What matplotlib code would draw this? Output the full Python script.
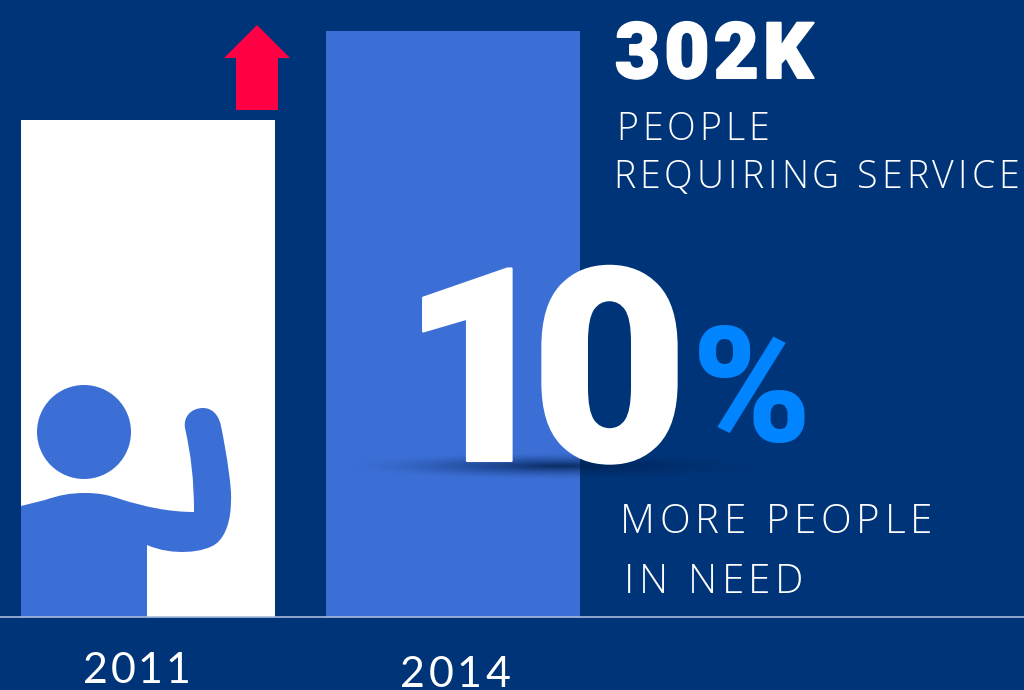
import numpy as np
import matplotlib
matplotlib.use('Agg')
import matplotlib.pyplot as plt
from matplotlib.font_manager import findfont, get_font
from matplotlib.patches import Circle, PathPatch, Polygon
from matplotlib.path import Path
from matplotlib.text import Text
from matplotlib.transforms import Bbox, IdentityTransform
import matplotlib.patheffects as pe

# chart values
years = ['2011', '2014']
people = [256, 302]

headline = '302K'
headline_label = ['PEOPLE', 'REQUIRING SERVICE']
change = '10'
change_label = ['MORE PEOPLE', 'IN NEED']

NAVY = '#003478'
BLUE = '#3C6FD6'
BRIGHT = '#0084FF'
RED = '#FF0044'


# matplotlib has no letter spacing, so lay the letters of one string out by hand
class TrackedText(Text):
    def __init__(self, x, y, s, tracking=0, **kw):
        super().__init__(x, y, s, ha='left', va='baseline', **kw)
        self.tracking = tracking

    def draw(self, renderer):
        x, y = self.get_transform().transform(self.get_position())
        prop = self.get_fontproperties()
        font = get_font(findfont(prop))
        for ch in self.get_text():
            piece = Text(x, y, ch, transform=IdentityTransform(), fontproperties=prop,
                         color=self.get_color(), ha='left', va='baseline',
                         path_effects=self.get_path_effects())
            piece.set_figure(self.figure)
            piece.draw(renderer)
            # the font object is cached and shared, path effects change its size
            font.set_size(prop.get_size_in_points(), self.figure.dpi)
            x += font.load_char(ord(ch)).linearHoriAdvance / 65536 + self.tracking

    def get_window_extent(self, renderer=None, dpi=None):
        box = super().get_window_extent(renderer, dpi)
        extra = self.tracking * (len(self.get_text()) - 1)
        return Bbox.from_extents(box.x0, box.y0, box.x1 + extra, box.y1)


fig = plt.figure(figsize=(10.24, 6.9), dpi=100, facecolor=NAVY)

# bars get their own axes, sitting on the baseline
bar_ax = fig.add_axes([0, 73 / 690, 1, 617 / 690])
bar_ax.set_xlim(0, 1024)
bar_ax.set_ylim(0, 617 / (586 / 302))
bar_ax.axis('off')
bar_ax.bar([148, 453], people, width=254, color=['white', BLUE], linewidth=0)

# everything else in pixel coordinates
ax = fig.add_axes([0, 0, 1, 1])
ax.set_xlim(0, 1024)
ax.set_ylim(690, 0)
ax.axis('off')
ax.patch.set_alpha(0)

ax.plot([0, 1024], [617, 617], color='#A9BBDD', lw=1.2)

# red arrow
ax.add_patch(Polygon([(257, 25), (290, 58), (278, 58), (278, 110), (236, 110),
                      (236, 58), (224, 58)], closed=True, fc=RED, ec='none'))

# person
ax.add_patch(Circle((84, 432), 47, fc=BLUE, ec='none'))
M, L, C = Path.MOVETO, Path.LINETO, Path.CURVE4
segments = [
    (M, [(21, 506)]),
    (L, [(45, 500)]),
    (C, [(60, 495), (70, 493), (85, 493)]),
    (C, [(100, 493), (108, 495), (120, 499)]),
    (C, [(145, 507), (170, 512), (194, 512)]),
    (C, [(194, 480), (191, 455), (185, 428)]),
    (C, [(183, 416), (192, 408), (203, 408)]),
    (C, [(213, 408), (219, 416), (221, 426)]),
    (C, [(227, 455), (232, 490), (231, 500)]),
    (C, [(231, 520), (226, 535), (217, 543)]),
    (C, [(205, 553), (172, 556), (147, 545)]),
    (L, [(147, 617)]),
    (L, [(21, 617)]),
    (L, [(21, 506)]),
]
verts = [p for _, pts in segments for p in pts]
codes = [c for c, pts in segments for _ in pts]
ax.add_patch(PathPatch(Path(verts, codes), fc=BLUE, ec='none'))

# soft shadow under the big number
xx, yy = np.meshgrid(np.linspace(-1, 1, 300), np.linspace(-1, 1, 60))
shade = np.clip(1 - np.sqrt(xx**2 + yy**2), 0, 1)**1.5
rgba = np.zeros((60, 300, 4))
rgba[..., 0:3] = matplotlib.colors.to_rgb('#001F4D')
rgba[..., 3] = shade * 0.85
ax.imshow(rgba, extent=(345, 775, 480, 452), aspect='auto', zorder=2, interpolation='bilinear')
ax.set_xlim(0, 1024)
ax.set_ylim(690, 0)

heavy = dict(family='Roboto', weight='black', color='white')
big = TrackedText(401, 461, change, tracking=-27, fontsize=195, zorder=3, **heavy)
big.set_path_effects([pe.withStroke(linewidth=1.5, foreground='white')])
ax.add_artist(big)
ax.text(692, 441, '%', fontsize=116, color=BRIGHT, family='Roboto', weight='black',
        ha='left', va='baseline', zorder=3)
top = TrackedText(615, 78, headline, tracking=4.3, fontsize=56, **heavy)
top.set_path_effects([pe.withStroke(linewidth=1.5, foreground='white')])
ax.add_artist(top)

light = dict(family='Open Sans', weight='light', color='white')
ax.add_artist(TrackedText(616, 140, headline_label[0], tracking=4, fontsize=27, **light))
ax.add_artist(TrackedText(613, 188, headline_label[1], tracking=4, fontsize=27, **light))
ax.add_artist(TrackedText(620, 533, change_label[0], tracking=4.7, fontsize=29, **light))
ax.add_artist(TrackedText(624, 593, change_label[1], tracking=4.7, fontsize=29, **light))
ax.add_artist(TrackedText(83, 683, years[0], tracking=2.5, fontsize=31, color='white', family='Lato'))
ax.add_artist(TrackedText(400, 687, years[1], tracking=3.5, fontsize=31, color='white', family='Lato'))

fig.savefig('out.png', dpi=100, facecolor=NAVY)
